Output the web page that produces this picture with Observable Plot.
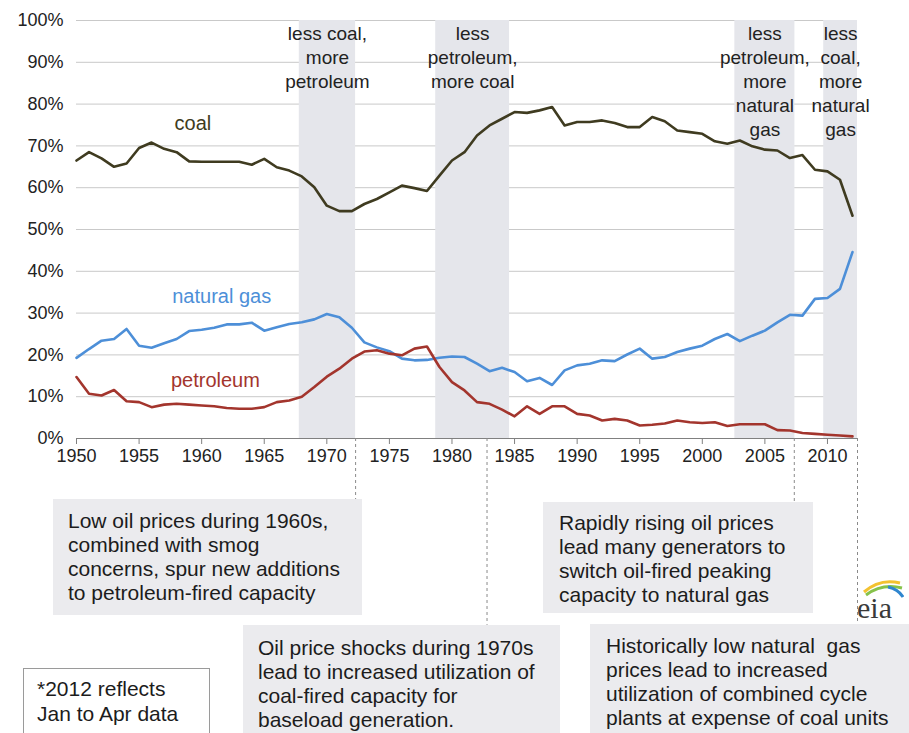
<!DOCTYPE html>
<html>
<head>
<meta charset="utf-8">
<script src="https://cdn.jsdelivr.net/npm/d3@7"></script>
<script src="https://cdn.jsdelivr.net/npm/@observablehq/plot@0.6"></script>
<style>
  body { margin: 0; background: #fff; font-family: "Liberation Sans", Arial, sans-serif; }
  #wrap { position: relative; width: 909px; height: 733px; overflow: hidden; background: #fff; }
  #wrap > svg { position: absolute; left: 0; top: 0; }
  .box { position: absolute; box-sizing: border-box; background: #ebebee; color: #1c1c1c;
         font-size: 21px; line-height: 24px; white-space: pre; }
  .foot { background: #fff; border: 1px solid #9a9a9a; line-height: 25px; }
  #eia { position: absolute; left: 852px; top: 576px; }
</style>
</head>
<body>
<div id="wrap"></div>
<script>
// ---------- data (share of U.S. electricity generation, %) ----------
const years = d3.range(1950, 2013);
const coal = [66.5, 68.5, 67.0, 65.0, 65.8, 69.5, 70.8, 69.3, 68.5, 66.3,
              66.2, 66.2, 66.2, 66.2, 65.5, 66.9, 64.9, 64.1, 62.7, 60.1,
              55.7, 54.4, 54.4, 56.1, 57.3, 58.9, 60.5, 59.9, 59.2, 62.9,
              66.5, 68.5, 72.5, 74.9, 76.5, 78.1, 77.9, 78.5, 79.3, 74.9,
              75.7, 75.7, 76.1, 75.5, 74.5, 74.5, 76.9, 75.9, 73.7, 73.3,
              72.9, 71.1, 70.5, 71.3, 69.9, 69.1, 68.9, 67.1, 67.8, 64.3,
              63.9, 61.9, 53.3];
const naturalGas = [19.3, 21.4, 23.4, 23.8, 26.2, 22.2, 21.7, 22.8, 23.8, 25.7,
                    26.0, 26.5, 27.3, 27.3, 27.7, 25.8, 26.6, 27.4, 27.8, 28.5,
                    29.8, 29.0, 26.5, 23.0, 21.8, 20.9, 19.1, 18.7, 18.8, 19.3,
                    19.6, 19.5, 17.9, 16.1, 16.9, 15.9, 13.7, 14.5, 12.8, 16.3,
                    17.5, 17.9, 18.7, 18.5, 20.1, 21.5, 19.1, 19.5, 20.7, 21.5,
                    22.2, 23.8, 25.0, 23.3, 24.6, 25.8, 27.8, 29.6, 29.4, 33.4,
                    33.6, 35.8, 44.6];
const petroleum = [14.7, 10.7, 10.3, 11.6, 8.9, 8.7, 7.5, 8.1, 8.3, 8.1,
                   7.9, 7.7, 7.3, 7.1, 7.1, 7.5, 8.7, 9.1, 10.0, 12.3,
                   14.8, 16.7, 19.1, 20.8, 21.1, 20.3, 19.9, 21.5, 22.0, 17.1,
                   13.5, 11.5, 8.7, 8.3, 6.9, 5.3, 7.7, 5.9, 7.7, 7.7,
                   5.9, 5.5, 4.3, 4.7, 4.3, 3.1, 3.3, 3.6, 4.3, 3.9,
                   3.7, 3.9, 3.0, 3.4, 3.4, 3.4, 2.0, 1.9, 1.3, 1.1,
                   0.9, 0.7, 0.5];
const fuels = ["coal", "natural gas", "petroleum"];
const fuelColors = ["#3f3b20", "#4d8fd8", "#a3352d"];

const xTicks = d3.range(1950, 2011, 5);
const yTicks = d3.range(0, 101, 10);

// shaded periods and their captions
const bandStart = [1967.8, 1978.7, 2002.6, 2009.7];
const bandEnd   = [1972.3, 1984.6, 2007.4, 2012.4];
const bandText  = ["less coal,\nmore\npetroleum",
                   "less\npetroleum,\nmore coal",
                   "less\npetroleum,\nmore\nnatural\ngas",
                   "less\ncoal,\nmore\nnatural\ngas"];

// dashed connectors from the axis down to the notes (year, depth in % units below 0)
const connectorYear = [1972.3, 1982.8, 2007.35, 2012.4];
const connectorEnd  = [-14.8, -44.7, -15.3, -44.5];

// series labels (anchored in data space)
const labelYear  = [1959.3, 1961.6, 1961.1];
const labelValue = [75.4, 34.0, 13.9];

// explanatory notes
const noteText = [
  "Low oil prices during 1960s,\ncombined with smog\nconcerns, spur new additions\nto petroleum-fired capacity",
  "Oil price shocks during 1970s\nlead to increased utilization of\ncoal-fired capacity for\nbaseload generation.",
  "Rapidly rising oil prices\nlead many generators to\nswitch oil-fired peaking\ncapacity to natural gas",
  "Historically low natural  gas\nprices lead to increased\nutilization of combined cycle\nplants at expense of coal units"
];
const footnote = "*2012 reflects\nJan to Apr data";

// ---------- tables built from the arrays ----------
const rows = years.flatMap((yr, i) => [
  {year: yr, share: coal[i], fuel: "coal"},
  {year: yr, share: naturalGas[i], fuel: "natural gas"},
  {year: yr, share: petroleum[i], fuel: "petroleum"}
]);
const bands = bandStart.map((s, i) => ({start: s, end: bandEnd[i], mid: (s + bandEnd[i]) / 2, label: bandText[i]}));
const connectors = connectorYear.map((yr, i) => ({year: yr, top: 0, end: connectorEnd[i]}));
const seriesLabels = fuels.map((f, i) => ({fuel: f, year: labelYear[i], value: labelValue[i]}));

const chart = Plot.plot({
  width: 909,
  height: 733,
  marginLeft: 76,
  marginRight: 52,
  marginTop: 20,
  marginBottom: 295,
  style: {fontFamily: '"Liberation Sans", Arial, sans-serif', color: "#222", background: "transparent", overflow: "visible"},
  x: {domain: [1950, 2012.4]},
  y: {domain: [0, 100]},
  color: {domain: fuels, range: fuelColors},
  marks: [
    Plot.gridY(yTicks, {stroke: "#c9c9c9", strokeOpacity: 1, strokeWidth: 1}),
    Plot.rect(bands, {x1: "start", x2: "end", fill: "#e5e6eb"}),
    Plot.ruleY([0], {stroke: "#808080", strokeWidth: 1.2}),
    Plot.axisY(yTicks, {tickSize: 0, tickPadding: 13, tickFormat: d => d + "%", fontSize: 18, label: null}),
    Plot.axisX(xTicks, {tickSize: 6, tickPadding: 5, tickFormat: d => String(d), fontSize: 18, label: null, stroke: "#808080"}),
    Plot.ruleX(connectors, {x: "year", y1: "top", y2: "end", stroke: "#8a8a8a", strokeWidth: 1, strokeDasharray: "3,3"}),
    Plot.text(bands, {x: "mid", frameAnchor: "top", text: "label", lineAnchor: "top", fontSize: 19, lineHeight: 1.27, fill: "#222", dy: 2}),
    Plot.line(rows, {x: "year", y: "share", z: "fuel", stroke: "fuel", strokeWidth: 2.6, strokeLinejoin: "round"}),
    Plot.text(seriesLabels, {x: "year", y: "value", text: "fuel", fill: "fuel", fontSize: 20})
  ]
});

const wrap = document.getElementById("wrap");
wrap.appendChild(chart);

// notes as boxes below the chart
const noteBoxes = [
  {left: 53, top: 499, width: 309, height: 116, pl: 15, pt: 10},
  {left: 243, top: 625, width: 317, height: 108, pl: 15, pt: 11},
  {left: 543, top: 502, width: 270, height: 111, pl: 16, pt: 9},
  {left: 590, top: 624, width: 319, height: 109, pl: 16, pt: 10}
];
noteText.forEach((t, i) => {
  const b = noteBoxes[i];
  const d = document.createElement("div");
  d.className = "box";
  Object.assign(d.style, {left: b.left + "px", top: b.top + "px", width: b.width + "px", height: b.height + "px",
                          paddingLeft: b.pl + "px", paddingTop: b.pt + "px"});
  d.textContent = t;
  wrap.appendChild(d);
});
const f = document.createElement("div");
f.className = "box foot";
Object.assign(f.style, {left: "23px", top: "668px", width: "187px", height: "66px", paddingLeft: "13px", paddingTop: "7px"});
f.textContent = footnote;
wrap.appendChild(f);

// eia logo
const logo = document.createElement("div");
logo.id = "eia";
logo.innerHTML = `<svg width="52" height="48" viewBox="0 0 52 48">
  <path d="M12 16 Q28 2 48 7" fill="none" stroke="#f3c230" stroke-width="3"/>
  <path d="M14 19 Q30 7 50 12" fill="none" stroke="#86c24a" stroke-width="3"/>
  <path d="M36 11 Q46 13 51 21" fill="none" stroke="#2f86cf" stroke-width="3"/>
  <text x="5" y="42" font-family="'Liberation Serif', 'DejaVu Serif', serif" font-size="30" fill="#3a3a3a">eia</text>
</svg>`;
wrap.appendChild(logo);
</script>
</body>
</html>
